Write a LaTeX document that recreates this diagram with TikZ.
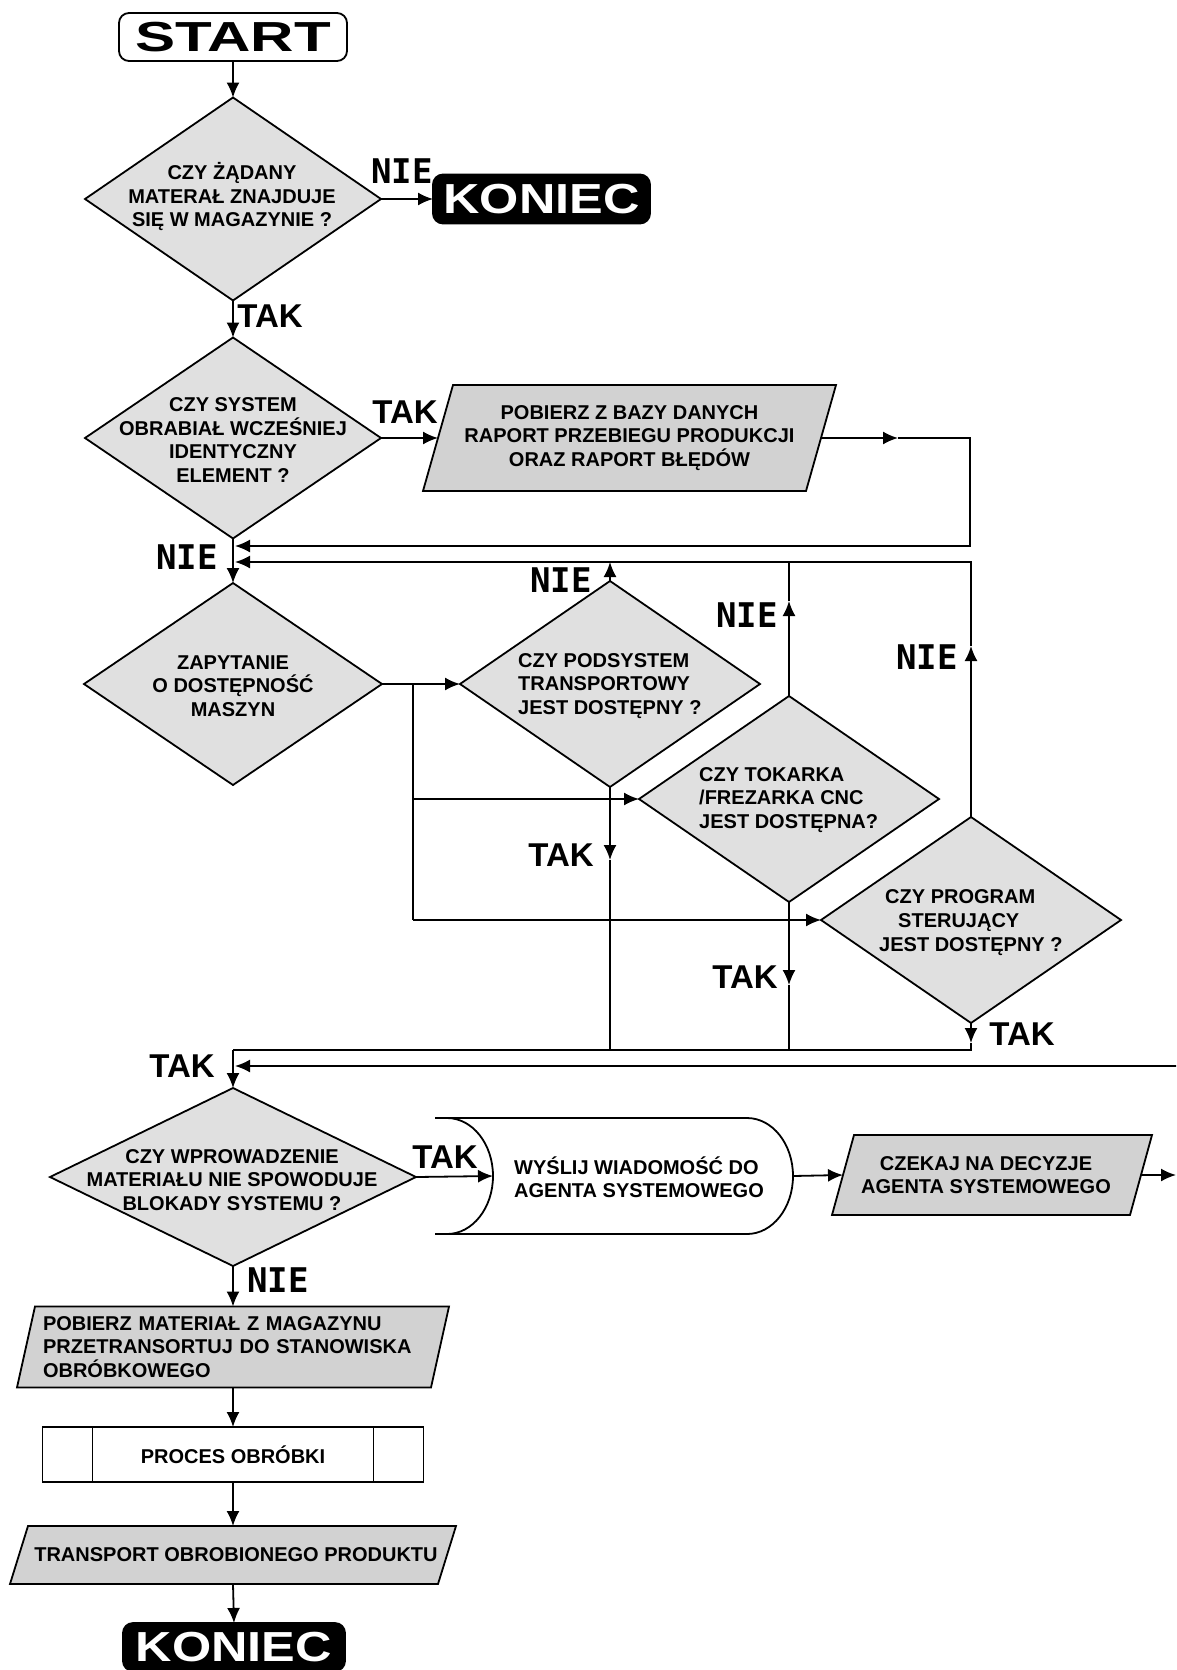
\documentclass[tikz,border=0pt]{standalone}
\usepackage{graphicx}
\usepackage{fontspec}
\setmainfont{Liberation Sans}
\newfontfamily\labmono{DejaVu Sans Mono}
\usetikzlibrary{arrows.meta,shapes.geometric,backgrounds}
\definecolor{diagray}{HTML}{E0E0E0}
\definecolor{boxgray}{HTML}{D2D2D2}
\tikzset{
  ln/.style={line width=1.8pt},
  arr/.style={ln, -{Latex[length=15pt,width=13pt]}},
  dia/.style={diamond, draw, line width=1.8pt, fill=diagray, inner sep=0pt, outer sep=0pt},
  txt/.style={font=\bfseries\fontsize{20}{23.5}\selectfont, align=center, inner sep=0pt},
  box/.style={rectangle, inner sep=0pt, outer sep=0pt},
  para/.style={draw, line width=1.8pt, fill=boxgray, line join=miter},
  taklab/.style={font=\bfseries\fontsize{33}{33}\selectfont, inner sep=0pt},
  nielab/.style={font=\labmono\bfseries\fontsize{34}{34}\selectfont, inner sep=0pt},
  term/.style={rectangle, rounded corners=10pt, draw, line width=1.8pt, inner sep=0pt, outer sep=0pt, font=\bfseries\fontsize{42}{42}\selectfont},
}
\newcommand\drawpara[2]{\path[para] ([xshift=#2]#1.north west) -- ([xshift=#2]#1.north east) -- ([xshift=-#2]#1.south east) -- ([xshift=-#2]#1.south west) -- cycle;}
\begin{document}
\begin{tikzpicture}[x=1pt,y=-1pt]
\useasboundingbox (0,0) rectangle (1176,1670);
\clip (0,0) rectangle (1176,1670);

% ---------- top ----------
\node[term, fill=white, minimum width=228pt, minimum height=48pt] (start) at (233,37) {\scalebox{1.43}[1]{START}};
\node[dia, minimum width=296pt, minimum height=203pt] (d1) at (233,199) {};
\node[txt] (d1t) at (232,197) {CZY ŻĄDANY\\MATERAŁ ZNAJDUJE\\SIĘ W MAGAZYNIE ?};
\node[term, fill=black, text=white, minimum width=217pt, minimum height=49pt] (kon1) at (541.5,199) {\scalebox{1.2}[1]{KONIEC}};
\node[nielab] (nie1) at (402,171) {NIE};
\draw[arr] (start.south) -- (d1.north);
\draw[arr] (d1.east) -- (kon1.west);

\node[dia, minimum width=296pt, minimum height=201pt] (d2) at (233,438) {};
\node[txt] (d2t) at (233,440) {CZY SYSTEM\\OBRABIAŁ WCZEŚNIEJ\\IDENTYCZNY\\ELEMENT ?};
\node[taklab] (tak1) at (270,316) {TAK};
\draw[arr] (d1.south) -- (d2.north);

\node[box, txt, minimum width=383pt, minimum height=106pt] (p1) at (629.5,438) {POBIERZ Z BAZY DANYCH\\RAPORT PRZEBIEGU PRODUKCJI\\ORAZ RAPORT BŁĘDÓW};
\node[taklab] (tak2) at (405,412) {TAK};
\draw[arr] (d2.east) -- (p1.west);

\coordinate (p1m) at (898,438);
\coordinate (p1c) at (970,438);
\coordinate (j1) at (235,546);
\coordinate (j2) at (235,562);
\draw[arr] (p1.east) -- (p1m);
\draw[arr] (p1m) -- (p1c) |- (j1);

% ---------- machine availability ----------
\node[dia, minimum width=298pt, minimum height=202pt] (d3) at (233,684) {};
\node[txt] (d3t) at (233,686) {ZAPYTANIE\\O DOSTĘPNOŚĆ\\MASZYN};
\node[nielab] (nie2) at (187,557) {NIE};
\draw[arr] (d2.south) -- (d3.north);

\node[dia, minimum width=300pt, minimum height=206pt] (d4) at (610,684) {};
\node[txt, align=left, anchor=west] (d4t) at (518,686) {CZY PODSYSTEM\\TRANSPORTOWY\\JEST DOSTĘPNY ?};
\node[dia, minimum width=300pt, minimum height=206pt] (d5) at (789,799) {};
\node[txt, align=left, anchor=west] (d5t) at (699,800) {CZY TOKARKA\\/FREZARKA CNC\\JEST DOSTĘPNA?};
\node[dia, minimum width=300pt, minimum height=206pt] (d6) at (971,920) {};
\node[txt, align=left, anchor=west, font=\bfseries\fontsize{20}{24}\selectfont] (d6t) at (879,923) {\hspace*{6pt}CZY PROGRAM\\\hspace*{19pt}STERUJĄCY\\JEST DOSTĘPNY ?};

\coordinate (b1) at (413,684);
\coordinate (b3) at (413,920);
\draw[arr] (d3.east) -- (d4.west);
\draw[ln] (b1) -- (b3);
\draw[arr] (b1 |- d5.west) -- (d5.west);
\draw[arr] (b3) -- (d6.west);

% NIE branches (up)
\draw[arr] (d4.north) -- (d4.north |- j2);
\node[nielab] (nie3) at (561,580) {NIE};
\coordinate (n5) at (789,601);
\draw[arr] (d5.north) -- (n5);
\draw[ln] (n5) -- (n5 |- j2);
\node[nielab] (nie4) at (747,615) {NIE};
\coordinate (n6) at (971,646);
\draw[arr] (d6.north) -- (n6);
\draw[arr] (n6) |- (j2);
\node[nielab] (nie5) at (927,657) {NIE};

% TAK branches (down)
\coordinate (k1) at (233,1050);
\coordinate (t4) at (610,860);
\draw[arr] (d4.south) -- (t4);
\draw[ln] (t4) -- (t4 |- k1);
\node[taklab] (tak3) at (561,855) {TAK};
\coordinate (t5) at (789,985);
\draw[arr] (d5.south) -- (t5);
\draw[ln] (t5) -- (t5 |- k1);
\node[taklab] (tak4) at (745,977) {TAK};
\coordinate (t6) at (971,1043);
\draw[arr] (d6.south) -- (t6);
\draw[ln] (t6) |- (k1);
\node[taklab] (tak5) at (1022,1034) {TAK};

% ---------- blocking check ----------
\node[dia, minimum width=366pt, minimum height=178pt] (d7) at (233,1177) {};
\node[txt] (d7t) at (232,1180) {CZY WPROWADZENIE\\MATERIAŁU NIE SPOWODUJE\\BLOKADY SYSTEMU ?};
\draw[arr] (k1) -- (d7.north);
\coordinate (e1) at (1180,1066);
\coordinate (k2) at (235,1066);
\draw[arr] (e1) -- (k2);
\node[taklab] (tak6) at (182,1066) {TAK};

\node[box, minimum width=300pt, minimum height=116pt] (ws) at (643,1176) {};
\draw[ln] ([xshift=-58pt]ws.north west) -- ([xshift=-46pt]ws.north east) arc[start angle=-90, end angle=90, x radius=46, y radius=58] -- ([xshift=-58pt]ws.south west);
\draw[ln] ([xshift=-46pt]ws.north west) arc[start angle=-90, end angle=90, x radius=46, y radius=58];
\node[txt, align=left, anchor=west] (wst) at (514,1177) {WYŚLIJ WIADOMOŚĆ DO\\AGENTA SYSTEMOWEGO};
\node[taklab] (tak7) at (445,1157) {TAK};
\draw[arr] (d7.east) -- (ws.west);

\node[box, txt, minimum width=298pt, minimum height=80pt] (cz) at (992,1175) {\hspace*{-12pt}CZEKAJ NA DECYZJE\\\hspace*{-12pt}AGENTA SYSTEMOWEGO};
\draw[arr] (ws.east) -- (cz.west);
\coordinate (e2) at (1176,1175);
\draw[arr] (cz.east) -- (e2);

% ---------- bottom chain ----------
\node[nielab] (nie6) at (278,1280) {NIE};
\node[box, txt, align=left, text width=380pt, minimum width=414pt, minimum height=81pt] (p2) at (233,1347) {POBIERZ MATERIAŁ Z MAGAZYNU\\PRZETRANSORTUJ DO STANOWISKA\\OBRÓBKOWEGO};
\draw[arr] (d7.south) -- (p2.north);

\node[box, txt, draw, line width=1.8pt, fill=white, minimum width=381pt, minimum height=55pt] (pr) at (233,1454.5) {PROCES OBRÓBKI};
\draw[ln] ([xshift=50pt]pr.north west) -- ([xshift=50pt]pr.south west);
\draw[ln] ([xshift=-50pt]pr.north east) -- ([xshift=-50pt]pr.south east);
\draw[arr] (p2.south) -- (pr.north);

\node[box, txt, minimum width=428pt, minimum height=58pt] (p3) at (233,1555) {\hspace*{6pt}TRANSPORT OBROBIONEGO PRODUKTU};
\draw[arr] (pr.south) -- (p3.north);

\node[term, fill=black, text=white, minimum width=222pt, minimum height=48pt] (kon2) at (234,1647) {\scalebox{1.2}[1]{KONIEC}};
\draw[arr] (p3.south) -- (kon2.north);

\begin{scope}[on background layer]
\fill[white] (0,0) rectangle (1176,1670);
\drawpara{p1}{15pt}
\drawpara{cz}{11pt}
\drawpara{p2}{9pt}
\drawpara{p3}{9pt}
\end{scope}
\end{tikzpicture}
\end{document}
